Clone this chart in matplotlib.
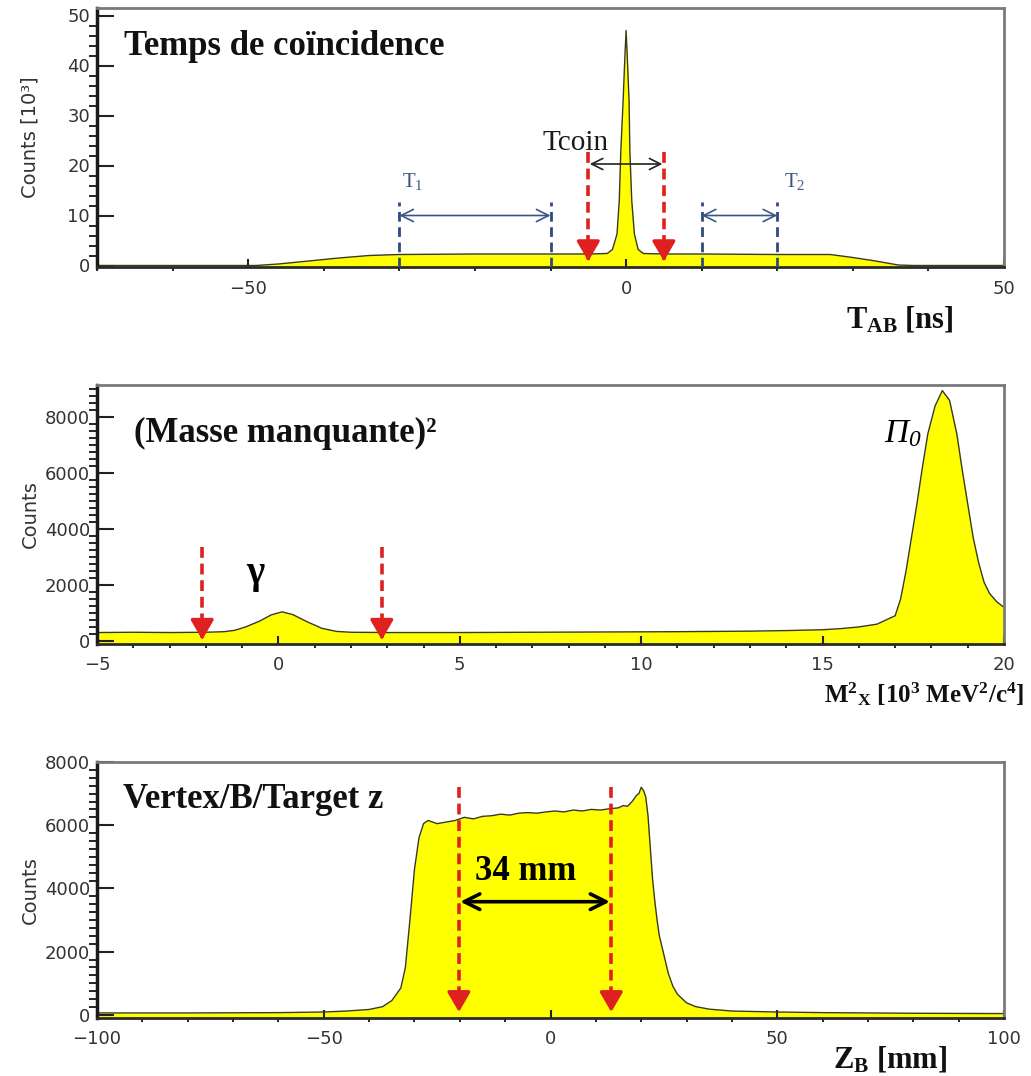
import numpy as np
import matplotlib.pyplot as plt
from matplotlib.ticker import MultipleLocator

plt.rcParams['mathtext.fontset'] = 'custom'
plt.rcParams['mathtext.rm'] = 'Liberation Serif'
plt.rcParams['mathtext.it'] = 'Liberation Serif:italic'
plt.rcParams['mathtext.bf'] = 'Liberation Serif:bold'
plt.rcParams['mathtext.sf'] = 'Liberation Serif:italic'

# --- Temps de coincidence (T_AB, counts in 10^3)
tab_x = [-70, -49, -46, -42, -38, -34, -30, -20, -10, -5, -2.5, -1.8, -1.2, -0.9, -0.7,
         -0.4, -0.15, 0, 0.15, 0.4, 0.5, 0.75, 1.1, 1.6, 2.3, 5, 10, 20, 27, 30, 33, 36, 38, 50]
tab_y = [0, 0, 0.3, 0.9, 1.5, 2.0, 2.2, 2.3, 2.3, 2.3, 2.4, 3.2, 6.3, 13, 22.8,
         32.7, 42, 47, 42, 32.7, 22.8, 13, 6.3, 3.2, 2.4, 2.3, 2.3, 2.2, 2.2, 1.6, 0.9, 0.1, 0, 0]
t1_cuts = [-30, -10]
t2_cuts = [10, 20]
tcoin_cuts = [-5, 5]

# --- Masse manquante au carre (10^3 MeV^2/c^4)
mx_x = [-5, -4, -3, -2, -1.5, -1.2, -0.9, -0.5, -0.2, 0.1, 0.4, 0.8, 1.2, 1.6, 2, 3, 4, 5, 7, 9,
        11, 13, 14, 15, 15.5, 16, 16.5, 17, 17.15, 17.3, 17.45, 17.6, 17.75, 17.9, 18.1, 18.3,
        18.5, 18.7, 18.85, 19, 19.15, 19.3, 19.45, 19.6, 19.8, 20]
mx_y = [300, 310, 300, 310, 330, 380, 500, 720, 930, 1040, 940, 680, 450, 340, 310, 300, 300, 300, 310, 320,
        330, 350, 370, 400, 440, 500, 600, 900, 1500, 2500, 3700, 4900, 6200, 7400, 8400, 8950,
        8600, 7400, 6100, 4900, 3700, 2800, 2100, 1700, 1400, 1200]
mx_cuts = [-2.1, 2.85]

# --- Vertex/B/Target z (mm)
vz_x = [-100, -80, -60, -50, -45, -40, -37, -35, -33, -32, -31, -30, -29, -28, -27, -25, -23, -21,
        -19, -17, -15, -13, -11, -9, -7, -5, -3, -1, 1, 3, 5, 7, 9, 11, 13, 15, 16, 17, 18, 19, 19.5,
        20, 20.5, 21, 21.5, 22, 22.5, 23, 23.5, 24, 25, 26, 27, 28, 30, 32, 35, 40, 50, 60, 80, 100]
vz_y = [60, 60, 70, 90, 120, 170, 260, 450, 850, 1500, 3000, 4600, 5600, 6050, 6150, 6050, 6100, 6150,
        6250, 6200, 6280, 6300, 6350, 6320, 6380, 6400, 6380, 6420, 6450, 6420, 6480, 6450, 6500, 6480,
        6520, 6550, 6620, 6600, 6750, 6950, 7000, 7200, 7100, 6900, 6300, 5300, 4300, 3600, 3000, 2500,
        1900, 1300, 900, 650, 380, 260, 180, 120, 90, 70, 50, 40]
vz_cuts = [-20.2, 13.4]

W, H = 1031, 1076
fig = plt.figure(figsize=(W / 100, H / 100), dpi=100)

def fx(px):
    return px / W

def fy(py):
    return 1 - py / H

yellow = '#FFFF00'
outline = '#3a3a1a'
red = '#E0201E'
blue = '#2E4A80'
serif = 'Liberation Serif'


def style(ax, xmaj, xmin, ymaj, ymin):
    for s in ['top', 'right']:
        ax.spines[s].set_color('#7a7a7a')
        ax.spines[s].set_linewidth(2)
    ax.spines['left'].set_color('#1a1a1a')
    ax.spines['left'].set_linewidth(2.5)
    ax.spines['bottom'].set_color('#2a2a2a')
    ax.spines['bottom'].set_linewidth(2)
    ax.xaxis.set_major_locator(MultipleLocator(xmaj))
    ax.xaxis.set_minor_locator(MultipleLocator(xmin))
    ax.yaxis.set_major_locator(MultipleLocator(ymaj))
    ax.yaxis.set_minor_locator(MultipleLocator(ymin))
    ax.tick_params(direction='in', colors='#222222', labelcolor='#333333', labelsize=13)
    ax.tick_params(axis='y', which='major', length=12, width=1.5, pad=5)
    ax.tick_params(axis='y', which='minor', length=6, width=1.2)
    ax.tick_params(axis='x', which='major', length=6, width=1.5, pad=9)
    ax.tick_params(axis='x', which='minor', length=3, width=1.2)


def hist(ax, x, y, ybot):
    ax.fill_between(x, y, ybot, color=yellow, lw=0, zorder=1)
    ax.plot(x, y, color=outline, lw=1, zorder=2)


def red_arrow(ax, x, ytop, ytip, head):
    ax.plot([x, x], [ytop, ytip + head], color=red, lw=2.6, ls=(0, (3, 1.6)), zorder=4)
    ax.annotate('', xy=(x, ytip), xytext=(x, ytip + head * 1.6),
                arrowprops=dict(arrowstyle='-|>,head_width=0.32,head_length=0.55',
                                color=red, lw=2.5, mutation_scale=22), zorder=5)


# ---------------- Panel 1
ax1 = fig.add_axes([fx(97), fy(267), fx(1004) - fx(97), fy(8) - fy(267)])
style(ax1, 50, 10, 10, 2)
ax1.set_xlim(-70, 50)
ax1.set_ylim(-0.3, 51.5)
hist(ax1, tab_x, tab_y, -0.3)
for xc in t1_cuts + t2_cuts:
    ax1.plot([xc, xc], [-0.3, 12.7], color=blue, lw=2, ls=(0, (3.5, 2)), zorder=3)
for a, b in [t1_cuts, t2_cuts]:
    ax1.annotate('', xy=(a, 10), xytext=(b, 10),
                 arrowprops=dict(arrowstyle='<->', color='#3b5684', lw=1.2,
                                 mutation_scale=22, shrinkA=0, shrinkB=0))
ax1.text(t1_cuts[0] + 0.4, 15.7, 'T$_{\\mathrm{1}}$', color='#3b5684', fontsize=15,
         family=serif, va='baseline', ha='left')
ax1.text(t2_cuts[1] + 0.9, 15.7, 'T$_{\\mathrm{2}}$', color='#3b5684', fontsize=15,
         family=serif, va='baseline', ha='left')
for xc in tcoin_cuts:
    red_arrow(ax1, xc, 22.7, 0.3, 1.2)
ax1.annotate('', xy=(tcoin_cuts[0] + 0.2, 20.3), xytext=(tcoin_cuts[1] - 0.2, 20.3),
             arrowprops=dict(arrowstyle='<->', color='#222222', lw=1.2,
                             mutation_scale=20, shrinkA=0, shrinkB=0))
ax1.text(-11.1, 23.1, 'Tcoin', fontsize=21, family=serif, color='#1a1a1a',
         va='baseline', ha='left')

# ---------------- Panel 2
ax2 = fig.add_axes([fx(97), fy(644), fx(1004) - fx(97), fy(385) - fy(644)])
style(ax2, 5, 1, 2000, 250)
ax2.set_xlim(-5, 20)
ax2.set_ylim(-110, 9150)
hist(ax2, mx_x, mx_y, -110)
for xc in mx_cuts:
    red_arrow(ax2, xc, 3360, -60, 260)
ax2.text(-0.64, 2400, 'γ', fontsize=28, family=serif, weight='bold', ha='center', va='center')
ax2.text(16.7, 7100, 'Π$_{\\mathsf{0}}$', fontsize=24, family=serif, style='italic',
         va='baseline', ha='left')

# ---------------- Panel 3
ax3 = fig.add_axes([fx(97), fy(1018), fx(1004) - fx(97), fy(762) - fy(1018)])
style(ax3, 50, 10, 2000, 250)
ax3.set_xlim(-100, 100)
ax3.set_ylim(-100, 8000)
hist(ax3, vz_x, vz_y, -100)
for xc in vz_cuts:
    red_arrow(ax3, xc, 7200, 0, 300)
ax3.annotate('', xy=(vz_cuts[0] + 0.3, 3580), xytext=(vz_cuts[1] - 0.3, 3580),
             arrowprops=dict(arrowstyle='<->', color='black', lw=2.6,
                             mutation_scale=28, shrinkA=0, shrinkB=0))
ax3.text(-5.5, 4270, '34 mm', fontsize=25, family=serif, weight='bold',
         ha='center', va='baseline')

# ---------------- titles and axis labels
tkw = dict(fontsize=25, family=serif, weight='bold', color='#111111', va='baseline', ha='left')
fig.text(fx(124), fy(55), 'Temps de coïncidence', **tkw)
fig.text(fx(134), fy(442), '(Masse manquante)²', **tkw)
fig.text(fx(123), fy(808), 'Vertex/B/Target z', **tkw)

xkw = dict(fontsize=22, family=serif, weight='bold', color='#111111', va='baseline', ha='left')
fig.text(fx(846), fy(328), 'T$_{\\mathbf{AB}}$ [ns]', **xkw)
fig.text(fx(824), fy(702), 'M$^{\\mathbf{2}}$$_{\\mathbf{X}}$ [10$^{\\mathbf{3}}$ MeV$^{\\mathbf{2}}$/c$^{\\mathbf{4}}$]',
         fontsize=18, family=serif, weight='bold', color='#111111', va='baseline', ha='left')
fig.text(fx(833), fy(1067), 'Z$_{\\mathbf{B}}$ [mm]', **xkw)

ykw = dict(fontsize=14, color='#333333', rotation=90, ha='center', va='center')
fig.text(fx(30), fy(137), 'Counts [10³]', **ykw)
fig.text(fx(30), fy(514), 'Counts', **ykw)
fig.text(fx(30), fy(890), 'Counts', **ykw)

fig.savefig('out.png', dpi=100)
